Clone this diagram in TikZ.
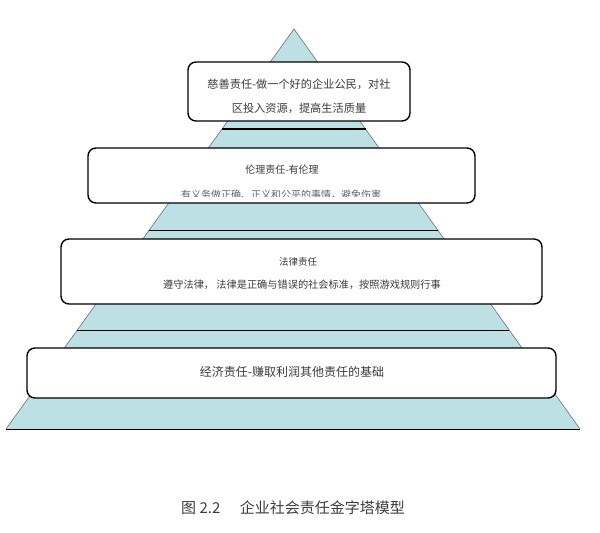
\documentclass[tikz,border=0pt]{standalone}
\usepackage{fontspec}
\setmainfont{Noto Sans CJK SC}
\usepackage{xcolor}
\usepackage{tikz}
\usetikzlibrary{calc}
\definecolor{pyrblue}{HTML}{BCE0E3}
\definecolor{pyredge}{HTML}{707070}
\definecolor{txtgray}{HTML}{3C3C3C}

\begin{document}
\begin{tikzpicture}[x=1pt,y=-1pt,
  layerbox/.style={draw=black,line width=1.4pt,fill=white,rounded corners=8pt,inner sep=0pt},
  boxtext/.style={text=txtgray,inner sep=0pt,anchor=center}]
  \useasboundingbox (0,0) rectangle (600,533);

  % pyramid
  \coordinate (apex) at (294,29);
  \coordinate (baseL) at (6,429);
  \coordinate (baseR) at (580,429);
  \fill[pyrblue] (apex) -- (baseR) -- (baseL) -- cycle;
  \draw[pyredge,line width=0.6pt] (baseL) -- (apex) -- (baseR);
  \draw[black,line width=0.8pt] (baseL) -- (baseR);

  \foreach \t/\w in {0.25/1.8pt,0.5025/0.8pt,0.7525/0.8pt} {
    \draw[black,line width=\w] ($(apex)!\t!(baseL)$) -- ($(apex)!\t!(baseR)$);
  }

  % boxes
  \node[layerbox,minimum width=222,minimum height=59] (cishan) at (299,91.5) {};
  \node[layerbox,minimum width=387,minimum height=55] (lunli) at (281.5,175.5) {};
  \node[layerbox,minimum width=481,minimum height=65] (falv) at (301.5,271.5) {};
  \node[layerbox,minimum width=529,minimum height=50] (jingji) at (291.5,373) {};

  \node[boxtext,font=\fontsize{11.2}{13}\selectfont] (cishanA) at (299,84) {慈善责任-做一个好的企业公民，对社};
  \node[boxtext,font=\fontsize{11.2}{13}\selectfont] (cishanB) at (299,108) {区投入资源，提高生活质量};

  \node[boxtext,font=\fontsize{10}{12}\selectfont] (lunliA) at (282,170) {伦理责任-有伦理};
  \begin{scope}
    \clip (88,150) rectangle (475,196);
    \node[boxtext,text=txtgray!80,font=\fontsize{10}{12}\selectfont] (lunliB) at (281,195) {有义务做正确、正义和公平的事情，避免伤害};
  \end{scope}

  \node[boxtext,font=\fontsize{9.5}{12}\selectfont] (falvA) at (298,262) {法律责任};
  \node[boxtext,font=\fontsize{10.2}{12}\selectfont] (falvB) at (302,285) {遵守法律， 法律是正确与错误的社会标准，按照游戏规则行事};

  \node[boxtext,font=\fontsize{12}{14}\selectfont] (jingjiA) at (292,372) {经济责任-赚取利润其他责任的基础};

  % caption
  \node[text=txtgray,font=\fontsize{15}{17}\selectfont] (caption) at (293,508) {图 2.2\hspace{1.3em}企业社会责任金字塔模型};
\end{tikzpicture}
\end{document}
